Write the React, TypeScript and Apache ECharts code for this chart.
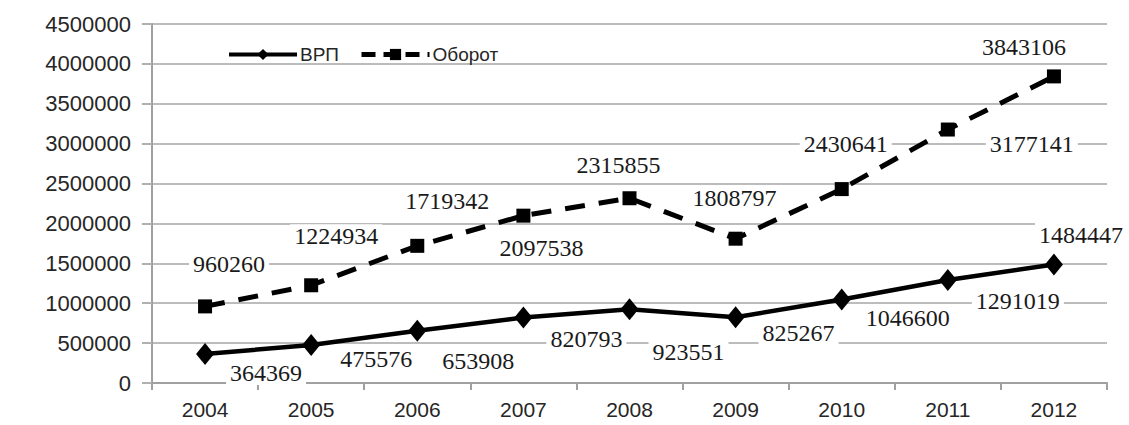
import React, { useEffect, useRef } from "react";
import * as echarts from "echarts";

const years = ["2004", "2005", "2006", "2007", "2008", "2009", "2010", "2011", "2012"];
const vrp = [364369, 475576, 653908, 820793, 923551, 825267, 1046600, 1291019, 1484447];
const oborot = [960260, 1224934, 1719342, 2097538, 2315855, 1808797, 2430641, 3177141, 3843106];
const seriesNames = ["ВРП", "Оборот"];

// label offsets (px) relative to each point, as placed in the original
const vrpLabelOffsets = [[61, 19], [65, 14], [61, 30], [63, 21], [59, 43], [63, 16], [66, 18], [70, 21], [27, -30]];
const oborotLabelOffsets = [[24, -42], [25, -49], [30, -45], [18, 32], [-11, -33], [-1, -41], [4, -45], [84, 14], [-30, -29]];

export default function App() {
  const ref = useRef<HTMLDivElement>(null);
  useEffect(() => {
    if (!ref.current) return;
    const chart = echarts.init(ref.current, null, { renderer: "svg" });
    const labelBase = {
      show: true,
      position: "inside",
      align: "center",
      verticalAlign: "middle",
      fontFamily: "Liberation Serif",
      fontSize: 24,
      color: "#1a1a1a",
      backgroundColor: "#ffffff",
      padding: [0, 4],
    };
    const mk = (vals: number[], offs: number[][]) =>
      vals.map((v, i) => ({ value: v, label: { ...labelBase, offset: offs[i] } }));
    chart.setOption({
      animation: false,
      backgroundColor: "#ffffff",
      grid: { left: 152, right: 22, top: 24, bottom: 42 },
      legend: {
        left: 222,
        top: 40,
        itemWidth: 68,
        itemHeight: 14,
        itemGap: 20,
        textStyle: { fontFamily: "Liberation Sans", fontSize: 19, color: "#262626", padding: [0, 0, 0, -2] },
        data: [
          { name: seriesNames[0], lineStyle: { width: 4, type: "solid" } },
          { name: seriesNames[1], lineStyle: { width: 5, type: [14, 8] } },
        ],
      },
      xAxis: {
        type: "category",
        data: years,
        boundaryGap: true,
        axisLine: { lineStyle: { color: "#a0a0a0", width: 2 } },
        axisTick: { show: true, length: 7, lineStyle: { color: "#a0a0a0", width: 2 } },
        axisLabel: { fontFamily: "Liberation Sans", fontSize: 21, color: "#262626", margin: 16 },
      },
      yAxis: {
        type: "value",
        min: 0,
        max: 4500000,
        interval: 500000,
        axisLine: { show: true, lineStyle: { color: "#a0a0a0", width: 2 } },
        axisTick: { show: true, length: 10, lineStyle: { color: "#b0b0b0", width: 2 } },
        axisLabel: {
          fontFamily: "Liberation Sans",
          fontSize: 22,
          color: "#262626",
          margin: 21,
          formatter: (v: number) => String(v),
        },
        splitLine: { lineStyle: { color: "#bcbcbc", width: 2 } },
      },
      series: [
        {
          name: seriesNames[0],
          type: "line",
          data: mk(vrp, vrpLabelOffsets),
          symbol: "diamond",
          symbolSize: [18, 22],
          itemStyle: { color: "#000" },
          lineStyle: { color: "#000", width: 4.5 },
          z: 3,
        },
        {
          name: seriesNames[1],
          type: "line",
          data: mk(oborot, oborotLabelOffsets),
          symbol: "rect",
          symbolSize: 14,
          itemStyle: { color: "#000" },
          lineStyle: { color: "#000", width: 5, type: [20, 14] },
          z: 3,
        },
      ],
    });
    return () => chart.dispose();
  }, []);
  return (
    <div
      ref={ref}
      style={{ position: "fixed", left: 0, top: 0, width: 1129, height: 425, background: "#fff" }}
    />
  );
}
